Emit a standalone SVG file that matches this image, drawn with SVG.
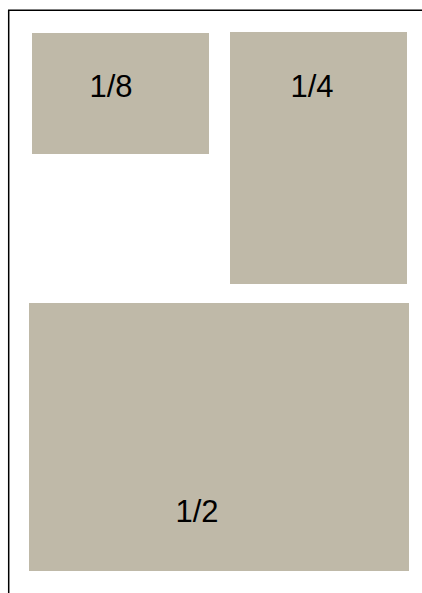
<svg xmlns="http://www.w3.org/2000/svg" width="422" height="593" viewBox="0 0 422 593">
<style>
.box{fill:#BFB9A8}
.lbl{font-family:"Liberation Sans",Arial,sans-serif;font-size:31px;fill:#000}
</style>
<rect width="422" height="593" fill="#fff"/>
<g id="frame"><path d="M8.7,593 V10.2 H422" fill="none" stroke="#000" stroke-width="1.5"/></g>
<g id="n-eighth"><rect class="box" x="32" y="33" width="177" height="121"/><text class="lbl" x="89.5" y="97">1/8</text></g>
<g id="n-quarter"><rect class="box" x="230" y="32" width="177" height="252"/><text class="lbl" x="290.5" y="97">1/4</text></g>
<g id="n-half"><rect class="box" x="29" y="303" width="380" height="268"/><text class="lbl" x="175.5" y="522">1/2</text></g>
<g id="connectors"/>
</svg>
